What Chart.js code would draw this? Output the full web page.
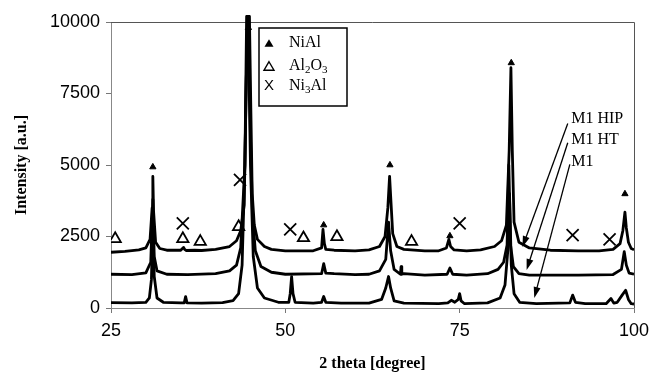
<!DOCTYPE html>
<html>
<head>
<meta charset="utf-8">
<script src="https://cdn.jsdelivr.net/npm/chart.js@4.4.1/dist/chart.umd.min.js"></script>
<style>
  html, body { margin: 0; padding: 0; background: #fff; }
  #wrap { width: 661px; height: 375px; }
</style>
</head>
<body>
<div id="wrap"><canvas id="xrdChart" width="661" height="375"></canvas></div>
<script>
// axis ticks
const xTicks = [25, 50, 75, 100];
const yTicks = [0, 2500, 5000, 7500, 10000];

// M1 HIP trace
const hipX = [25, 27, 29, 30, 30.6, 30.9, 31.0, 31.1, 31.4, 32, 33, 35, 35.4, 35.6, 35.8, 37, 38, 40, 42, 43, 43.6, 44.1, 44.4, 44.65, 44.85, 45.05, 45.25, 45.55, 46, 47, 48, 50, 52, 54, 55.2, 55.4, 55.6, 55.8, 57, 60, 62, 63.5, 64.3, 64.7, 64.95, 65.15, 65.4, 66, 67, 70, 72, 73.1, 73.45, 73.7, 74.2, 76, 78, 80, 81, 81.7, 82.1, 82.35, 82.55, 82.8, 83.5, 85, 88, 92, 95, 97, 98, 98.4, 98.7, 98.9, 99.2, 99.6, 100];
const hipY = [1950, 1980, 2030, 2100, 2400, 3500, 4600, 3400, 2300, 2080, 2020, 2020, 2120, 2040, 2010, 2020, 2010, 2050, 2150, 2350, 2700, 3600, 8000, 10200, 10200, 7000, 4000, 2900, 2400, 2150, 2050, 2000, 2000, 2000, 2100, 2750, 2250, 2050, 2020, 2000, 2030, 2150, 2500, 3500, 4600, 3700, 2600, 2150, 2050, 2000, 2000, 2100, 2400, 2150, 2030, 2000, 2030, 2150, 2350, 2900, 5500, 8400, 5500, 3000, 2300, 2100, 2020, 2000, 2000, 2050, 2250, 2700, 3350, 2800, 2300, 2080, 2040];

// M1 HT trace
const htX = [25, 28, 30, 30.7, 31.0, 31.2, 31.6, 33, 36, 40, 42, 43, 43.6, 44.2, 44.55, 44.75, 45.0, 45.3, 45.7, 46.5, 48, 50, 55.2, 55.5, 55.8, 57, 60, 62, 63.5, 64.4, 64.8, 65.1, 65.6, 66.5, 66.6, 66.7, 67, 70, 73.2, 73.6, 74, 76, 79, 80.5, 81.3, 81.8, 82.05, 82.3, 82.7, 83.5, 85, 92, 97, 98.2, 98.6, 98.9, 99.3, 100];
const htY = [1180, 1170, 1230, 1600, 3800, 1800, 1300, 1180, 1170, 1200, 1300, 1500, 2100, 5000, 10200, 10200, 6000, 3200, 2000, 1450, 1250, 1180, 1200, 1550, 1220, 1200, 1170, 1180, 1300, 1700, 3000, 2000, 1350, 1180, 1450, 1180, 1200, 1150, 1180, 1400, 1180, 1150, 1200, 1350, 1600, 2200, 5000, 2200, 1450, 1200, 1150, 1150, 1170, 1350, 1970, 1500, 1220, 1180];

// M1 trace
const m1X = [25, 28, 30, 30.5, 30.8, 31.0, 31.2, 31.6, 32.5, 35, 35.5, 35.7, 35.9, 38, 41, 42.5, 43.3, 43.8, 44.2, 44.45, 44.65, 45.0, 45.4, 46, 47, 49, 50.5, 50.7, 50.9, 51.1, 51.4, 54, 55.2, 55.5, 55.8, 58, 62, 63.8, 64.4, 64.8, 65.1, 65.6, 67, 72, 73.3, 73.8, 74.3, 74.8, 75.0, 75.2, 75.7, 79, 80.8, 81.5, 81.9, 82.15, 82.4, 82.8, 83.6, 86, 90.8, 91.2, 91.6, 93, 96, 96.7, 97.1, 97.6, 98.3, 98.8, 99.2, 99.6, 100];
const m1Y = [190, 180, 200, 350, 1000, 3000, 1100, 350, 200, 180, 180, 400, 180, 170, 190, 260, 500, 1500, 5000, 10200, 10200, 5000, 1800, 700, 350, 200, 200, 500, 1100, 500, 200, 170, 200, 400, 200, 170, 170, 300, 700, 1100, 700, 250, 170, 150, 180, 270, 200, 300, 500, 250, 150, 180, 350, 800, 2000, 4000, 1500, 500, 200, 150, 180, 450, 200, 150, 150, 330, 170, 200, 450, 620, 300, 150, 140];

// phase markers
const niAlX = [31.0, 44.7, 55.5, 65.0, 73.6, 82.4, 98.7];
const niAlY = [4930, 9800, 2900, 5000, 2520, 8570, 3990];
const al2o3X = [25.6, 35.3, 37.8, 43.3, 52.6, 57.4, 68.1];
const al2o3Y = [2420, 2420, 2320, 2840, 2450, 2490, 2320];
const ni3AlX = [35.3, 43.5, 50.7, 75.0, 91.2, 96.5];
const ni3AlY = [2960, 4480, 2750, 2960, 2550, 2400];

// trace labels with arrows
const traceNames = ["M1 HIP", "M1 HT", "M1"];
const labelX = [91.0, 91.0, 91.0];
const labelY = [6600, 5870, 5100];
const arrowStartX = [90.5, 90.5, 90.8];
const arrowStartY = [6450, 5780, 5020];
const arrowTipX = [84.0, 84.6, 85.7];
const arrowTipY = [2130, 1330, 350];

function pts(xs, ys) {
  return xs.map((x, i) => ({ x: x, y: ys[i] }));
}

document.addEventListener("DOMContentLoaded", function () {
  const ctx = document.getElementById("xrdChart")?.getContext("2d");
  if (!ctx) {
    console.error("canvas not found!");
    return;
  }

  const traceStyle = {
    borderColor: "#000",
    borderWidth: 2.8,
    borderJoinStyle: "round",
    pointRadius: 0,
    tension: 0,
    fill: false,
    clip: { left: 0, top: 8, right: 0, bottom: 0 }
  };

  const markerStyle = {
    showLine: false,
    borderColor: "#000",
    pointHoverRadius: 0
  };

  // frame round the plot
  const framePlugin = {
    id: "frame",
    beforeDatasetsDraw(chart) {
      const a = chart.chartArea;
      const c = chart.ctx;
      c.save();
      c.strokeStyle = "#555";
      c.lineWidth = 1;
      c.beginPath();
      c.moveTo(a.left, a.top + 0.5);
      c.lineTo(a.right + 0.5, a.top + 0.5);
      c.lineTo(a.right + 0.5, a.bottom);
      c.stroke();
      c.restore();
    }
  };

  function triangle(c, cx, cy, w, filled) {
    const h = w * 0.85;
    c.beginPath();
    c.moveTo(cx, cy - h / 2);
    c.lineTo(cx + w / 2, cy + h / 2);
    c.lineTo(cx - w / 2, cy + h / 2);
    c.closePath();
    if (filled) c.fill(); else c.stroke();
  }

  function formula(c, parts, x, y) {
    parts.forEach(p => {
      if (p[1]) {
        c.font = "11px 'Liberation Serif'";
        c.fillText(p[0], x, y + 4);
      } else {
        c.font = "16px 'Liberation Serif'";
        c.fillText(p[0], x, y);
      }
      x += c.measureText(p[0]).width;
    });
  }

  const decorPlugin = {
    id: "decor",
    afterDatasetsDraw(chart) {
      const c = chart.ctx;
      const a = chart.chartArea;
      const xs = chart.scales.x;
      const ys = chart.scales.y;
      c.save();

      // legend box
      const bx = a.left + 148, by = a.top + 6, bw = 88, bh = 78;
      c.fillStyle = "#fff";
      c.fillRect(bx, by, bw, bh);
      c.strokeStyle = "#000";
      c.lineWidth = 1.5;
      c.strokeRect(bx, by, bw, bh);
      c.fillStyle = "#000";
      c.textBaseline = "middle";
      c.textAlign = "left";
      const rowY = [by + 15, by + 38, by + 58];
      c.lineWidth = 1.4;
      triangle(c, bx + 10, rowY[0], 9, true);
      triangle(c, bx + 10, rowY[1], 10, false);
      c.font = "15px 'Liberation Sans'";
      c.fillText("X", bx + 5, rowY[2]);
      formula(c, [["NiAl", 0]], bx + 30, rowY[0]);
      formula(c, [["Al", 0], ["2", 1], ["O", 0], ["3", 1]], bx + 30, rowY[1]);
      formula(c, [["Ni", 0], ["3", 1], ["Al", 0]], bx + 30, rowY[2]);

      // trace labels and arrows
      c.font = "16px 'Liberation Serif'";
      c.lineWidth = 1.3;
      traceNames.forEach((name, i) => {
        c.fillText(name, xs.getPixelForValue(labelX[i]), ys.getPixelForValue(labelY[i]));
        const x0 = xs.getPixelForValue(arrowStartX[i]);
        const y0 = ys.getPixelForValue(arrowStartY[i]);
        const x1 = xs.getPixelForValue(arrowTipX[i]);
        const y1 = ys.getPixelForValue(arrowTipY[i]);
        const ang = Math.atan2(y1 - y0, x1 - x0);
        c.beginPath();
        c.moveTo(x0, y0);
        c.lineTo(x1 - 6 * Math.cos(ang), y1 - 6 * Math.sin(ang));
        c.stroke();
        c.beginPath();
        c.moveTo(x1, y1);
        c.lineTo(x1 - 11 * Math.cos(ang) + 3.5 * Math.sin(ang), y1 - 11 * Math.sin(ang) - 3.5 * Math.cos(ang));
        c.lineTo(x1 - 11 * Math.cos(ang) - 3.5 * Math.sin(ang), y1 - 11 * Math.sin(ang) + 3.5 * Math.cos(ang));
        c.closePath();
        c.fill();
      });
      c.restore();
    }
  };

  new Chart(ctx, {
    type: "line",
    data: {
      datasets: [
        Object.assign({ label: "M1 HIP", data: pts(hipX, hipY) }, traceStyle),
        Object.assign({ label: "M1 HT", data: pts(htX, htY) }, traceStyle),
        Object.assign({ label: "M1", data: pts(m1X, m1Y) }, traceStyle),
        Object.assign({
          label: "NiAl", data: pts(niAlX, niAlY),
          pointStyle: "triangle", pointRadius: 3.6, backgroundColor: "#000", pointBorderWidth: 1
        }, markerStyle),
        Object.assign({
          label: "Al2O3", data: pts(al2o3X, al2o3Y),
          pointStyle: "triangle", pointRadius: 6.5, backgroundColor: "#fff", pointBorderWidth: 1.8
        }, markerStyle),
        Object.assign({
          label: "Ni3Al", data: pts(ni3AlX, ni3AlY),
          pointStyle: "crossRot", pointRadius: 8.5, backgroundColor: "#000", pointBorderWidth: 1.8
        }, markerStyle)
      ]
    },
    options: {
      responsive: false,
      animation: false,
      layout: { padding: { left: 10, top: 22, right: 27, bottom: 0 } },
      scales: {
        x: {
          type: "linear",
          min: 25,
          max: 100,
          afterBuildTicks: s => { s.ticks = xTicks.map(v => ({ value: v })); },
          afterFit: s => { s.height = 67; },
          ticks: {
            color: "#000",
            padding: 7,
            callback: v => String(v),
            font: { family: "'Liberation Sans'", size: 18 }
          },
          grid: { drawOnChartArea: false, tickLength: 5, color: "#777" },
          border: { color: "#888", width: 1 },
          title: {
            display: true,
            text: "2 theta [degree]",
            color: "#000",
            padding: { top: 0, bottom: 2 },
            font: { family: "'Liberation Serif'", size: 16, weight: "bold" }
          }
        },
        y: {
          min: 0,
          max: 10000,
          afterBuildTicks: s => { s.ticks = yTicks.map(v => ({ value: v })); },
          afterFit: s => { s.width = 101; },
          ticks: {
            color: "#000",
            padding: 6,
            callback: v => String(v),
            font: { family: "'Liberation Sans'", size: 18 }
          },
          grid: { drawOnChartArea: false, tickLength: 5, color: "#777" },
          border: { color: "#888", width: 1 },
          title: {
            display: true,
            text: "Intensity [a.u.]",
            color: "#000",
            padding: { top: 2, bottom: 0 },
            font: { family: "'Liberation Serif'", size: 16, weight: "bold" }
          }
        }
      },
      plugins: {
        legend: { display: false },
        tooltip: { enabled: false }
      }
    },
    plugins: [framePlugin, decorPlugin]
  });
});
</script>
</body>
</html>
